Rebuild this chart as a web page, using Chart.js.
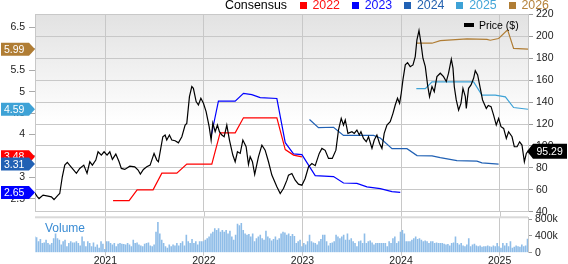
<!DOCTYPE html>
<html>
<head>
<meta charset="utf-8">
<script src="https://cdn.jsdelivr.net/npm/chart.js@4.4.1/dist/chart.umd.min.js"></script>
<style>
  html, body { margin: 0; padding: 0; background: #fff; }
  #wrap { position: relative; width: 568px; height: 264px; overflow: hidden; font-family: "Liberation Sans", Arial, sans-serif; }
  canvas { position: absolute; left: 0; }
  #main { top: 0; }
  #vol { top: 208px; }
  #head { position: absolute; left: 225px; top: -1px; font-size: 12.4px; line-height: 12px; white-space: nowrap; color: #000; }
  #head i { display: inline-block; width: 7px; height: 7px; margin: 0 5.7px 0 12px; position: relative; top: 0; }
  #head i.first { margin-left: 12.7px; }
  #priceKey { position: absolute; left: 464px; top: 19px; font-size: 10.5px; line-height: 12px; white-space: nowrap; color: #000; }
  #priceKey b { display: inline-block; width: 10px; height: 4px; background: #000; margin-right: 5px; position: relative; top: -2px; }
  #volLabel { position: absolute; left: 45px; top: 221px; font-size: 12px; color: #3a8cd4; }
</style>
</head>
<body>
<div id="wrap">
  <canvas id="main" width="568" height="222" style="width:568px;height:222px"></canvas>
  <canvas id="vol" width="568" height="56" style="width:568px;height:56px"></canvas>
  <div id="head"><span>Consensus</span></div>
  <div id="priceKey"><b></b>Price ($)</div>
  <div id="volLabel">Volume</div>
</div>
<script>
// x axis in fractional years
const xMin = 2020.286;
const xMax = 2025.288;
const yearTicks = [2021, 2022, 2023, 2024, 2025];
const epsTicks = [2.5, 3, 3.5, 4, 4.5, 5, 5.5, 6, 6.5];
const priceTicks = [40, 60, 80, 100, 120, 140, 160, 180, 200, 220];
const volTicks = [0, 200, 400, 600, 800];

// weekly-ish closing price
const priceDates = [
  2020.283, 2020.307, 2020.327, 2020.368, 2020.418, 2020.452, 2020.479, 2020.520, 2020.537, 2020.563,
  2020.588, 2020.614, 2020.645, 2020.679, 2020.706, 2020.740, 2020.781, 2020.814, 2020.842, 2020.868,
  2020.903, 2020.926, 2020.959, 2020.987, 2021.017, 2021.045, 2021.071, 2021.106, 2021.139, 2021.162,
  2021.197, 2021.248, 2021.298, 2021.332, 2021.355, 2021.386, 2021.420, 2021.454, 2021.494, 2021.522,
  2021.538, 2021.562, 2021.583, 2021.606, 2021.623, 2021.650, 2021.674, 2021.708, 2021.741, 2021.776,
  2021.809, 2021.826, 2021.853, 2021.877, 2021.893, 2021.921, 2021.944, 2021.969, 2021.995, 2022.022,
  2022.053, 2022.073, 2022.090, 2022.114, 2022.137, 2022.157, 2022.182, 2022.205, 2022.232, 2022.259,
  2022.293, 2022.317, 2022.340, 2022.368, 2022.395, 2022.428, 2022.452, 2022.469, 2022.492, 2022.515,
  2022.553, 2022.588, 2022.621, 2022.655, 2022.689, 2022.740, 2022.774, 2022.807, 2022.842, 2022.858,
  2022.892, 2022.926, 2022.959, 2022.994, 2023.027, 2023.061, 2023.095, 2023.129, 2023.170, 2023.197,
  2023.230, 2023.264, 2023.302, 2023.339, 2023.365, 2023.393, 2023.416, 2023.434, 2023.461, 2023.502,
  2023.525, 2023.552, 2023.576, 2023.593, 2023.619, 2023.647, 2023.670, 2023.705, 2023.728, 2023.755,
  2023.782, 2023.806, 2023.829, 2023.857, 2023.890, 2023.918, 2023.941, 2023.964, 2023.985, 2024.002,
  2024.019, 2024.043, 2024.066, 2024.093, 2024.121, 2024.144, 2024.161, 2024.182, 2024.202, 2024.222,
  2024.246, 2024.269, 2024.289, 2024.314, 2024.337, 2024.364, 2024.398, 2024.431, 2024.459, 2024.482,
  2024.510, 2024.527, 2024.540, 2024.560, 2024.584, 2024.608, 2024.628, 2024.652, 2024.662, 2024.685,
  2024.710, 2024.736, 2024.753, 2024.777, 2024.804, 2024.827, 2024.865, 2024.885, 2024.913, 2024.939,
  2024.966, 2024.990, 2025.014, 2025.041, 2025.068, 2025.091, 2025.126, 2025.149, 2025.177, 2025.203,
  2025.227, 2025.251, 2025.271, 2025.288
];
const priceValues = [
  57.2, 54, 52, 55.1, 54.2, 53.6, 51.1, 55.1, 56.6, 71.9,
  82.5, 85, 81.6, 78, 75, 79.5, 82.5, 75, 85.6, 82.5,
  87.1, 94.7, 91.7, 94.7, 91.7, 94.7, 87.7, 92.6, 85.6, 79.5,
  78.6, 81.6, 81, 78, 74.3, 78.6, 81, 82.5, 93.2, 87.1,
  85.6, 97.8, 108.4, 110, 105.4, 110, 105.4, 104.8, 102.9, 108.4,
  119.1, 120.6, 145, 154.2, 152.6, 140.5, 137.4, 143.5, 138.9, 131.3,
  117.6, 105.4, 121, 113, 119.1, 113, 110, 108.4, 119.1, 105.4,
  91.7, 85.6, 94.7, 93.2, 105.4, 99.3, 83, 90.2, 85.6, 74,
  90.1, 100.8, 96.2, 85.6, 73.4, 62.7, 56.6, 61.2, 68.8, 73.4,
  74.9, 68.8, 65.1, 64.2, 70.3, 81, 84, 82, 93.2, 97.8,
  96, 88.6, 88.6, 96.2, 114.5, 125.2, 119.1, 123.7, 111.5, 113,
  111.5, 114.5, 110, 113, 106.9, 103.9, 108.4, 97.8, 105.4, 110,
  102.3, 97.8, 111.5, 119.1, 122.2, 129.8, 137.4, 143.5, 138.9, 148.1,
  160.3, 174, 176.1, 172.4, 174, 181.6, 196.9, 205.4, 193.8, 180.1,
  172.4, 155.7, 145, 154.2, 149.6, 163.3, 166.4, 163.3, 158.8, 166.4,
  179.2, 171, 154.2, 142, 132.8, 138.9, 152.6, 145, 134.3, 152.6,
  155.7, 161.8, 168.8, 164.8, 152.6, 142, 134.3, 137, 135.9, 128.2,
  119.1, 125.2, 117.6, 116, 106.9, 113, 108.4, 99.3, 99.3, 103.8,
  100.8, 85.6, 93.2, 95.29
];

// consensus EPS estimates by fiscal year
const eps2022Dates = [2021.078, 2021.241, 2021.322, 2021.484, 2021.573, 2021.725, 2021.826, 2022.080, 2022.164, 2022.317, 2022.401, 2022.740, 2022.825, 2022.909, 2022.994];
const eps2022 = [2.46, 2.46, 2.71, 2.71, 3.10, 3.10, 3.31, 3.31, 4.04, 4.04, 4.39, 4.39, 3.65, 3.52, 3.48];
const eps2023Dates = [2022.073, 2022.147, 2022.317, 2022.401, 2022.486, 2022.571, 2022.740, 2022.825, 2022.909, 2022.994, 2023.129, 2023.315, 2023.416, 2023.552, 2023.654, 2023.789, 2023.908, 2023.992];
const eps2023 = [3.96, 4.78, 4.78, 4.96, 4.93, 4.86, 4.84, 3.81, 3.55, 3.53, 3.04, 3.02, 2.87, 2.86, 2.78, 2.74, 2.67, 2.65];
const eps2024Dates = [2023.071, 2023.162, 2023.315, 2023.416, 2023.552, 2023.721, 2023.789, 2023.908, 2024.060, 2024.162, 2024.314, 2024.398, 2024.567, 2024.770, 2024.821, 2024.990];
const eps2024 = [4.35, 4.16, 4.17, 3.98, 3.98, 3.98, 3.92, 3.67, 3.67, 3.51, 3.50, 3.46, 3.39, 3.38, 3.34, 3.31];
const eps2025Dates = [2024.155, 2024.246, 2024.314, 2024.736, 2024.821, 2024.956, 2025.058, 2025.142, 2025.288];
const eps2025 = [5.07, 5.07, 5.23, 5.23, 4.92, 4.92, 4.88, 4.63, 4.59];
const eps2026Dates = [2024.155, 2024.314, 2024.398, 2024.669, 2024.872, 2024.905, 2024.990, 2025.081, 2025.142, 2025.288];
const eps2026 = [6.13, 6.13, 6.19, 6.23, 6.22, 6.20, 6.24, 6.44, 6.01, 5.99];

// weekly volume (thousands), first week starts at volStart
const volStart = 2020.283;
const volume = [
  385, 370, 270, 325, 230, 245, 310, 230, 195, 230, 345, 460, 345, 310, 195, 270, 310, 155, 230, 270,
  245, 245, 270, 230, 170, 385, 270, 155, 270, 230, 155, 245, 140, 195, 115, 270, 215,
  90, 270, 270, 230, 195, 230, 155, 215, 230, 215, 210, 195, 230, 195, 155, 310, 230, 245, 195, 170,
  155, 215, 230, 245, 170, 155, 195, 500, 730, 460, 310, 230, 155, 115, 195, 155, 195, 170, 230, 170,
  230, 270, 170, 425, 270, 230, 325, 230, 270, 195, 270, 270,
  270, 310, 345, 385, 460, 500, 580, 540, 580, 500, 540, 500, 540, 460, 525, 385, 310, 425, 690, 655,
  710, 540, 460, 425, 445, 385, 460, 270, 345, 385, 425, 345, 310, 525, 385, 345, 290, 325, 385, 310,
  345, 460, 500, 480, 425, 460, 400, 445, 400, 230, 270, 310,
  155, 230, 195, 270, 425, 270, 245, 230, 195, 270, 325, 425, 425, 270, 170, 230, 245, 270, 425, 385,
  345, 385, 425, 310, 460, 310, 345, 270, 230, 155, 270, 290, 230, 460, 230, 270, 290, 245, 195, 230,
  230, 230, 230, 230, 230, 155, 270, 230, 345, 385, 230, 270,
  500, 540, 460, 270, 270, 270, 310, 345, 385, 325, 345, 310, 270, 290, 270, 230, 270, 270, 230, 245,
  230, 230, 230, 215, 195, 210, 170, 230, 245, 385, 230, 195, 230, 170, 155, 195, 345, 155, 195, 215,
  170, 155, 170, 140, 155, 155, 170, 155, 140, 170, 155, 230,
  155, 115, 230, 170, 230, 155, 270, 115, 140, 170, 155, 140, 195, 155, 170, 330
];

const consensus = [
  { name: '2022', dates: eps2022Dates, values: eps2022, color: '#ff0000', text: '#ff1010' },
  { name: '2023', dates: eps2023Dates, values: eps2023, color: '#0000ff', text: '#1010ff' },
  { name: '2024', dates: eps2024Dates, values: eps2024, color: '#2161b4', text: '#2462b0' },
  { name: '2025', dates: eps2025Dates, values: eps2025, color: '#3ea2d6', text: '#44a6d8' },
  { name: '2026', dates: eps2026Dates, values: eps2026, color: '#b07d34', text: '#b6833b' }
];

const FONT = '"Liberation Sans", Arial, sans-serif';
Chart.defaults.font.family = FONT;
Chart.defaults.font.size = 10.5;
Chart.defaults.color = '#222';

function toPoints(xs, ys) {
  return xs.map((x, i) => ({ x: x, y: ys[i] }));
}
function fixedTicks(list) {
  return s => { s.ticks = list.map(v => ({ value: v })); };
}
// nudge layout padding until the plot area sits where wanted
function placeArea(chart, top, bottom) {
  for (let k = 0; k < 4; k++) {
    const a = chart.chartArea;
    const p = chart.config.options.layout.padding;
    p.top = Math.max(0, p.top + top - a.top);
    p.bottom = Math.max(0, p.bottom + a.bottom - bottom);
    chart.update();
  }
}

// header legend
const head = document.getElementById('head');
consensus.forEach((s, i) => {
  const sq = document.createElement('i');
  sq.style.background = s.color;
  if (i === 0) sq.className = 'first';
  const t = document.createElement('span');
  t.textContent = s.name;
  t.style.color = s.text;
  head.appendChild(sq);
  head.appendChild(t);
});

const panelBg = {
  id: 'panelBg',
  beforeDraw(chart) {
    const { ctx, chartArea: a } = chart;
    const g = ctx.createLinearGradient(0, a.top, 0, a.bottom);
    g.addColorStop(0, '#e2e2e2');
    g.addColorStop(0.55, '#ffffff');
    ctx.save();
    ctx.fillStyle = g;
    ctx.fillRect(a.left, a.top, a.right - a.left, a.bottom - a.top);
    ctx.restore();
  }
};

function flagLeft(ctx, y, color) {
  ctx.fillStyle = color;
  ctx.beginPath();
  ctx.moveTo(1, y - 6.5);
  ctx.lineTo(29, y - 6.5);
  ctx.lineTo(35, y);
  ctx.lineTo(29, y + 6.5);
  ctx.lineTo(1, y + 6.5);
  ctx.closePath();
  ctx.fill();
}

const flags = {
  id: 'flags',
  afterDraw(chart) {
    const ctx = chart.ctx;
    const eps = chart.scales.eps;
    const price = chart.scales.price;
    ctx.save();
    ctx.font = '10.5px ' + FONT;
    ctx.textBaseline = 'middle';
    consensus.forEach(s => {
      const v = s.values[s.values.length - 1];
      const y = eps.getPixelForValue(v);
      flagLeft(ctx, y, s.color);
      ctx.fillStyle = '#fff';
      ctx.fillText(v.toFixed(2), 4, y + 0.5);
    });
    const last = priceValues[priceValues.length - 1];
    const py = price.getPixelForValue(last);
    ctx.fillStyle = '#000';
    ctx.beginPath();
    ctx.moveTo(527, py);
    ctx.lineTo(533, py - 7.5);
    ctx.lineTo(567, py - 7.5);
    ctx.lineTo(567, py + 7.5);
    ctx.lineTo(533, py + 7.5);
    ctx.closePath();
    ctx.fill();
    ctx.fillStyle = '#fff';
    ctx.fillText(last.toFixed(2), 536.5, py + 0.5);
    ctx.restore();
  }
};

const datasets = [{
  label: 'Price ($)',
  data: toPoints(priceDates, priceValues),
  yAxisID: 'price',
  borderColor: '#000',
  borderWidth: 1.2,
  pointRadius: 0,
  tension: 0
}];
consensus.forEach(s => {
  datasets.push({
    label: s.name,
    data: toPoints(s.dates, s.values),
    yAxisID: 'eps',
    borderColor: s.color,
    borderWidth: 1.2,
    pointRadius: 0,
    tension: 0
  });
});

const mainChart = new Chart(document.getElementById('main'), {
  type: 'line',
  data: { datasets: datasets },
  options: {
    responsive: false,
    animation: false,
    devicePixelRatio: 1,
    layout: { padding: { top: 14, bottom: 0, left: 0, right: 0 } },
    plugins: { legend: { display: false }, tooltip: { enabled: false } },
    scales: {
      x: {
        type: 'linear', min: xMin, max: xMax,
        afterBuildTicks: fixedTicks(yearTicks),
        ticks: { display: false },
        grid: { color: '#c8c8c8', drawTicks: false },
        border: { display: false },
        afterFit: s => { s.height = 0; }
      },
      eps: {
        position: 'left', min: 2.2, max: 6.8,
        afterBuildTicks: fixedTicks(epsTicks),
        ticks: { padding: 4, callback: v => String(v) },
        grid: { drawOnChartArea: false, tickLength: 6, tickColor: '#aaa' },
        border: { color: '#c8c8c8' },
        afterFit: s => { s.width = 35; }
      },
      price: {
        position: 'right', min: 40, max: 220,
        afterBuildTicks: fixedTicks(priceTicks),
        ticks: { padding: 3, callback: v => String(v) },
        grid: { color: '#c8c8c8', tickLength: 5, tickColor: '#999' },
        border: { color: '#c8c8c8' },
        afterFit: s => { s.width = 40; }
      }
    }
  },
  plugins: [panelBg, flags]
});
placeArea(mainChart, 14.5, 211.5);

const volBand = {
  id: 'volBand',
  beforeDatasetsDraw(chart) {
    const { ctx, chartArea: a } = chart;
    const x = chart.scales.x;
    ctx.save();
    ctx.strokeStyle = '#c8c8c8';
    ctx.lineWidth = 1;
    yearTicks.forEach(v => {
      const px = Math.round(x.getPixelForValue(v)) + 0.5;
      ctx.beginPath();
      ctx.moveTo(px, a.top - 6);
      ctx.lineTo(px, a.top);
      ctx.stroke();
    });
    ctx.fillStyle = '#d9d9d9';
    ctx.fillRect(a.left, a.top - 1, a.right - a.left, 2);
    ctx.restore();
  }
};

const volChart = new Chart(document.getElementById('vol'), {
  type: 'bar',
  data: {
    datasets: [{
      data: volume.map((v, i) => ({ x: volStart + i / 52, y: v })),
      yAxisID: 'vol',
      backgroundColor: '#8fbde8',
      barPercentage: 0.85,
      categoryPercentage: 1
    }]
  },
  options: {
    responsive: false,
    animation: false,
    devicePixelRatio: 1,
    layout: { padding: { top: 9.3, left: 35, right: 0, bottom: 0 } },
    plugins: { legend: { display: false }, tooltip: { enabled: false } },
    scales: {
      x: {
        type: 'linear', min: xMin, max: xMax, offset: false,
        afterBuildTicks: fixedTicks(yearTicks),
        ticks: { padding: -1, maxRotation: 0, autoSkip: false, callback: v => String(v) },
        grid: { color: '#c8c8c8', tickLength: 3, tickColor: '#c8c8c8', offset: false },
        border: { display: false },
        afterFit: s => { s.height = 11.3; }
      },
      vol: {
        position: 'right', min: 0, max: 843,
        afterBuildTicks: fixedTicks(volTicks),
        ticks: { padding: 3, callback: v => (v ? v + 'k' : '0') },
        grid: { drawOnChartArea: false, tickLength: 4, tickColor: '#999' },
        border: { color: '#c8c8c8' },
        afterFit: s => { s.width = 40; }
      }
    }
  },
  plugins: [volBand]
});
placeArea(volChart, 9.3, 44.7);
</script>
</body>
</html>
